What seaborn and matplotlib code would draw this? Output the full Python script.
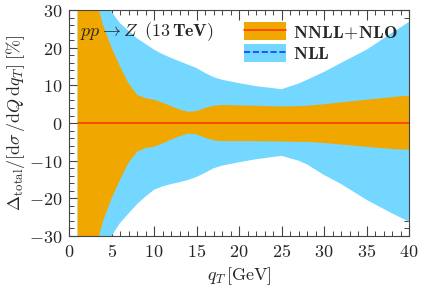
import numpy as np
import pandas as pd
import matplotlib
matplotlib.use("Agg")
import matplotlib.pyplot as plt
import matplotlib.patches as mpatches
import matplotlib.lines as mlines
from matplotlib.ticker import MultipleLocator, FuncFormatter
import seaborn as sns

### donnees
qt = [1, 2, 3, 4, 5, 6, 7, 8, 9, 10, 11, 12, 13, 14, 15, 16, 17, 18,
      20, 22, 25, 27, 28, 30, 32, 35, 38, 40]

# NNLL+NLO (bande orange)
nnll_up = [60, 45, 34, 26, 20, 15, 10.5, 7.5, 6.6, 6.2, 5.4, 4.5, 3.6, 3.0,
           3.2, 4.0, 4.6, 4.8, 4.7, 4.6, 4.4, 4.5, 4.6, 5.0, 5.5, 6.2, 6.9, 7.3]
nnll_lo = [-60, -45, -34, -26, -20, -15, -10.5, -7.6, -6.6, -6.3, -5.4, -4.4,
           -3.5, -2.8, -3.0, -3.9, -4.6, -4.8, -4.8, -4.8, -4.9, -5.0, -5.0,
           -5.3, -5.7, -6.3, -6.9, -7.1]
nnll_central = [0.0] * len(qt)

# NLL (bande bleue)
nll_up = [80, 60, 45, 35, 29.5, 26.5, 24.5, 22.5, 21, 19.5, 18.3, 17.3, 16.4,
          15.5, 14.6, 13.3, 12.2, 11.5, 10.6, 9.8, 9.0, 10.5, 11.5, 13.6, 16,
          19.5, 24, 26.9]
nll_lo = [-80, -60, -45, -35, -30, -26.5, -24, -21.5, -19.5, -17.7, -16.8,
          -16.2, -15.7, -15.1, -14.3, -13.2, -12, -11.3, -10.4, -9.6, -8.7,
          -10, -11, -13.8, -16.2, -20.4, -24, -26.2]

col_orange = "#f0a800"
col_bleu = "#73d7ff"
col_rouge = "#ff3a00"
col_tiret = "#1040ff"

sns.set_style("ticks")
plt.rcParams["mathtext.fontset"] = "cm"
plt.rcParams["font.family"] = ["DejaVu Serif"]

df = pd.DataFrame({"qt": qt, "central": nnll_central})

fig = plt.figure(figsize=(4.24, 2.98), dpi=100)
ax = fig.add_axes([0.163, 0.208, 0.802, 0.758])

ax.fill_between(qt, nll_lo, nll_up, color=col_bleu, lw=0)
ax.fill_between(qt, nnll_lo, nnll_up, color=col_orange, lw=0)
sns.lineplot(data=df, x="qt", y="central", ax=ax, color=col_rouge, lw=1.2)

ax.set_xlim(0, 40)
ax.set_ylim(-30, 30)
ax.xaxis.set_major_locator(MultipleLocator(5))
ax.xaxis.set_minor_locator(MultipleLocator(1))
ax.yaxis.set_major_locator(MultipleLocator(10))
ax.yaxis.set_minor_locator(MultipleLocator(2))
fmt = FuncFormatter(lambda v, p: r"$\mathbf{%d}$" % v)
ax.xaxis.set_major_formatter(fmt)
ax.yaxis.set_major_formatter(fmt)
ax.tick_params(which="both", direction="in", top=True, right=True,
               color="#444444", labelsize=13)
ax.tick_params(which="major", length=7, width=0.8, pad=5)
ax.tick_params(which="minor", length=3.6, width=0.7)
for s in ax.spines.values():
    s.set_color("#444444")
    s.set_linewidth(0.8)
    s.set_zorder(5)

ax.set_xlabel(r"$q_T\,[\mathrm{GeV}]$", fontsize=13, labelpad=3)
ax.set_ylabel(r"$\mathbf{\Delta}_{\mathrm{total}}/[\mathrm{d}\sigma\,/\mathrm{d}Q\,\mathrm{d}q_T]\;[\%]$",
              fontsize=13, labelpad=1)

ax.text(1.3, 23.0, r"$pp \rightarrow Z\;\;(\mathbf{13\,TeV})$", fontsize=13)

h1 = (mpatches.Patch(color=col_orange, lw=0),
      mlines.Line2D([], [], color=col_rouge, lw=1.2))
h2 = (mpatches.Patch(color=col_bleu, lw=0),
      mlines.Line2D([], [], color=col_tiret, lw=1.2, ls="--"))
ax.legend([h1, h2], [r"$\mathbf{NNLL\!+\!NLO}$", r"$\mathbf{NLL}$"],
          loc="upper right", frameon=False, fontsize=13,
          handlelength=2.3, handleheight=1.2, borderaxespad=0.25,
          labelspacing=0.15, handletextpad=0.4)

fig.savefig("out.png", dpi=100)
